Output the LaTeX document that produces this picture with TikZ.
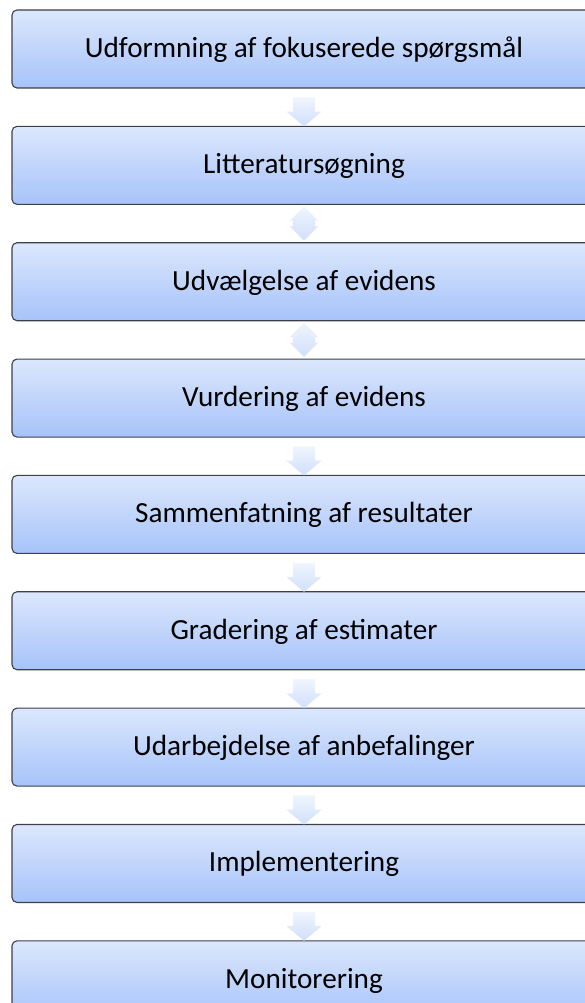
\documentclass[tikz,border=0pt]{standalone}
\usepackage{fontspec}
\setmainfont{Carlito}
\usetikzlibrary{positioning, shapes.arrows}

\definecolor{boxtop}{HTML}{DCE7FC}
\definecolor{boxbot}{HTML}{A6C3FA}
\definecolor{boxline}{HTML}{3C4049}
\definecolor{arrtop}{HTML}{F0F5FE}
\definecolor{arrbot}{HTML}{D0DFFB}

\begin{document}
\begin{tikzpicture}[x=1pt, y=1pt, node distance=37.25pt and 0pt]

\useasboundingbox (0,0) rectangle (585,-1003);
\clip (0,0) rectangle (585,-1003);

\tikzset{
  stepbox/.style={rectangle, rounded corners=5pt, draw=boxline, line width=1.1pt,
    top color=boxtop, bottom color=boxbot, minimum width=584pt, minimum height=78pt,
    inner sep=0pt, text height=17pt, text depth=0pt, font=\fontsize{29.2}{31}\selectfont},
  downarr/.style={single arrow, shape border rotate=270, draw=none,
    top color=arrtop, bottom color=arrbot, minimum height=29pt, minimum width=35pt,
    single arrow head extend=6.5pt, single arrow head indent=0pt,
    single arrow tip angle=100, inner xsep=11pt, inner ysep=0pt},
  bothfarr/.style={double arrow, shape border rotate=90, draw=none,
    top color=arrtop, bottom color=arrbot, minimum height=34pt, minimum width=28pt,
    double arrow head extend=3pt, double arrow head indent=0pt,
    inner xsep=11pt, inner ysep=0pt}
}

% the nine steps, top to bottom
\node (udf) at (304,-49) [stepbox] {Udformning af fokuserede spørgsmål};
\node (lit) [stepbox, below=of udf] {Litteratursøgning};
\node (udv) [stepbox, below=of lit] {Udvælgelse af evidens};
\node (vur) [stepbox, below=of udv] {Vurdering af evidens};
\node (sam) [stepbox, below=of vur] {Sammenfatning af resultater};
\node (gra) [stepbox, below=of sam] {Gradering af estimater};
\node (uda) [stepbox, below=of gra] {Udarbejdelse af anbefalinger};
\node (imp) [stepbox, below=of uda] {Implementering};
\node (mon) [stepbox, below=of imp] {Monitorering};

% block arrows in the gaps
\path (udf.south) -- node[downarr] (a1) {} (lit.north);
\path (lit.south) -- node[bothfarr] (a2) {} (udv.north);
\path (udv.south) -- node[bothfarr] (a3) {} (vur.north);
\path (vur.south) -- node[downarr] (a4) {} (sam.north);
\path (sam.south) -- node[downarr] (a5) {} (gra.north);
\path (gra.south) -- node[downarr] (a6) {} (uda.north);
\path (uda.south) -- node[downarr] (a7) {} (imp.north);
\path (imp.south) -- node[downarr] (a8) {} (mon.north);

\end{tikzpicture}
\end{document}
